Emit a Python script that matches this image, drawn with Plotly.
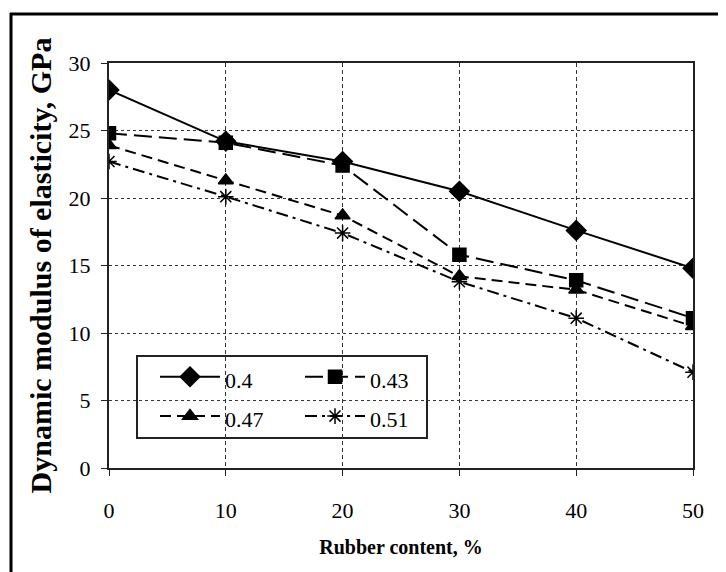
import plotly.graph_objects as go

rubber = [0, 10, 20, 30, 40, 50]
s040 = [28.0, 24.2, 22.7, 20.5, 17.6, 14.8]
s043 = [24.8, 24.1, 22.4, 15.8, 13.9, 11.1]
s047 = [23.9, 21.3, 18.7, 14.2, 13.2, 10.5]
s051 = [22.7, 20.1, 17.4, 13.8, 11.1, 7.1]
names = ["0.4", "0.43", "0.47", "0.51"]
xticks = [0, 10, 20, 30, 40, 50]
yticks = [0, 5, 10, 15, 20, 25, 30]

FONT = "Liberation Serif"

series = [
    (s040, names[0], "solid", "diamond", 15, "a"),
    (s043, names[1], "18px,7px", "square", 13, "b"),
    (s047, names[2], "11px,6px", "triangle-up", 13, "a"),
    (s051, names[3], "12px,5px,3px,5px", "asterisk-open", 13, "b"),
]

fig = go.Figure()
for ys, nm, dash, sym, sz, grp in series:
    fig.add_trace(go.Scatter(
        x=rubber, y=ys, mode="lines+markers",
        name='<span style="font-size:22px">' + nm + '</span>',
        legendgroup=grp,
        line=dict(color="black", width=2, dash=dash),
        marker=dict(symbol=sym, size=sz, color="black",
                    line=dict(color="black", width=1.5)),
    ))

# page body adds an 8px offset; plot area at 109..693 x 63..468 on screen
PX0, PW, PY0, PH = 109, 584, 468, 405


def px(v):
    return (v - PX0) / PW


def py(v):
    return (PY0 - v) / PH


fig.update_layout(
    width=726, height=572,
    margin=dict(l=101, r=41, t=55, b=112),
    paper_bgcolor="white", plot_bgcolor="white",
    font=dict(family=FONT, color="black", size=22),
    showlegend=True,
    legend=dict(
        orientation="h", traceorder="grouped",
        x=px(155), y=py(352), xanchor="left", yanchor="top",
        bgcolor="rgba(255,255,255,0)", borderwidth=0,
        font=dict(family=FONT, size=28, color="black"),
        itemwidth=60, entrywidth=70, tracegroupgap=0,
    ),
    xaxis=dict(
        range=[0, 50], tickvals=xticks, ticktext=[str(v) for v in xticks],
        showline=True, mirror=True, linecolor="#222", linewidth=2,
        ticks="outside", ticklen=6, tickcolor="#222",
        showgrid=True, gridcolor="#333", gridwidth=1.2, griddash="4px,3px",
        zeroline=False, tickfont=dict(size=22), ticklabelstandoff=16,
        title=dict(text="<b>Rubber content, %</b>", font=dict(size=20), standoff=18),
    ),
    yaxis=dict(
        range=[0, 30], tickvals=yticks, ticktext=[str(v) for v in yticks],
        showline=True, mirror=True, linecolor="#222", linewidth=2,
        ticks="outside", ticklen=6, tickcolor="#222",
        showgrid=True, gridcolor="#333", gridwidth=1.2, griddash="dot",
        zeroline=False, tickfont=dict(size=22), ticklabelstandoff=6,
        title=dict(text="<b>Dynamic modulus of elasticity, GPa</b>", font=dict(size=30), standoff=8),
    ),
    shapes=[
        dict(type="rect", xref="paper", yref="paper", layer="between",
             x0=px(137), x1=px(427), y0=py(438), y1=py(356),
             fillcolor="white", line=dict(color="#222", width=2)),
        dict(type="line", xref="paper", yref="paper",
             x0=px(10), x1=px(740), y0=py(14), y1=py(14),
             line=dict(color="black", width=3)),
        dict(type="line", xref="paper", yref="paper",
             x0=px(11), x1=px(11), y0=py(590), y1=py(13),
             line=dict(color="black", width=3)),
    ],
)

fig.write_html("out.html")
